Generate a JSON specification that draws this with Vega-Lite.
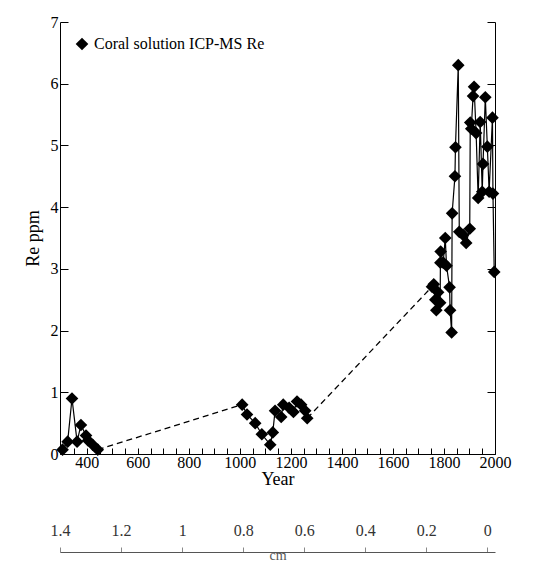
{
  "$schema": "https://vega.github.io/schema/vega-lite/v6.json",
  "width": 435,
  "height": 432,
  "autosize": "none",
  "padding": {"left": 60, "top": 22, "right": 46, "bottom": 117},
  "config": {
    "font": "Liberation Serif",
    "view": {"stroke": null},
    "axis": {"labelFont": "Liberation Serif", "titleFont": "Liberation Serif", "labelFontSize": 16, "titleFontSize": 18, "titleFontWeight": "normal", "labelColor": "#000", "titleColor": "#000", "domainColor": "#000", "tickColor": "#000", "grid": false}
  },
  "datasets": {
    "re": [
      {"year": 305, "re": 0.07, "seg": "A"},
      {"year": 325, "re": 0.2, "seg": "A"},
      {"year": 342, "re": 0.9, "seg": "A"},
      {"year": 362, "re": 0.2, "seg": "A"},
      {"year": 377, "re": 0.47, "seg": "A"},
      {"year": 397, "re": 0.3, "seg": "A"},
      {"year": 405, "re": 0.22, "seg": "A"},
      {"year": 423, "re": 0.15, "seg": "A"},
      {"year": 443, "re": 0.07, "seg": "A", "gap": "g1"},
      {"year": 1009, "re": 0.8, "seg": "B", "gap": "g1"},
      {"year": 1028, "re": 0.64, "seg": "B"},
      {"year": 1060, "re": 0.5, "seg": "B"},
      {"year": 1086, "re": 0.32, "seg": "B"},
      {"year": 1119, "re": 0.15, "seg": "B"},
      {"year": 1129, "re": 0.35, "seg": "B"},
      {"year": 1138, "re": 0.7, "seg": "B"},
      {"year": 1162, "re": 0.6, "seg": "B"},
      {"year": 1170, "re": 0.8, "seg": "B"},
      {"year": 1193, "re": 0.75, "seg": "B"},
      {"year": 1210, "re": 0.68, "seg": "B"},
      {"year": 1224, "re": 0.85, "seg": "B"},
      {"year": 1240, "re": 0.8, "seg": "B"},
      {"year": 1256, "re": 0.7, "seg": "B"},
      {"year": 1264, "re": 0.58, "seg": "B", "gap": "g2"},
      {"year": 1753, "re": 2.71, "seg": "C", "gap": "g2"},
      {"year": 1760, "re": 2.75, "seg": "C"},
      {"year": 1766, "re": 2.5, "seg": "C"},
      {"year": 1770, "re": 2.33, "seg": "C"},
      {"year": 1777, "re": 2.62, "seg": "C"},
      {"year": 1785, "re": 2.45, "seg": "C"},
      {"year": 1786, "re": 3.1, "seg": "C"},
      {"year": 1787, "re": 3.28, "seg": "C"},
      {"year": 1797, "re": 3.1, "seg": "C"},
      {"year": 1805, "re": 3.5, "seg": "C"},
      {"year": 1810, "re": 3.05, "seg": "C"},
      {"year": 1822, "re": 2.7, "seg": "C"},
      {"year": 1824, "re": 2.33, "seg": "C"},
      {"year": 1830, "re": 1.97, "seg": "C"},
      {"year": 1832, "re": 3.9, "seg": "C"},
      {"year": 1843, "re": 4.5, "seg": "C"},
      {"year": 1845, "re": 4.97, "seg": "C"},
      {"year": 1856, "re": 6.3, "seg": "C"},
      {"year": 1860, "re": 3.6, "seg": "C"},
      {"year": 1875, "re": 3.55, "seg": "C"},
      {"year": 1887, "re": 3.42, "seg": "C"},
      {"year": 1901, "re": 3.65, "seg": "C"},
      {"year": 1903, "re": 5.37, "seg": "C"},
      {"year": 1907, "re": 5.27, "seg": "C"},
      {"year": 1914, "re": 5.8, "seg": "C"},
      {"year": 1918, "re": 5.95, "seg": "C"},
      {"year": 1926, "re": 5.2, "seg": "C"},
      {"year": 1934, "re": 4.15, "seg": "C"},
      {"year": 1942, "re": 5.38, "seg": "C"},
      {"year": 1950, "re": 4.25, "seg": "C"},
      {"year": 1953, "re": 4.7, "seg": "C"},
      {"year": 1962, "re": 5.78, "seg": "C"},
      {"year": 1970, "re": 4.98, "seg": "C"},
      {"year": 1977, "re": 4.25, "seg": "C"},
      {"year": 1990, "re": 5.45, "seg": "C"},
      {"year": 1992, "re": 4.22, "seg": "C"},
      {"year": 1997, "re": 2.95, "seg": "C"}
    ]
  },
  "layer": [
    {
      "data": {"name": "re"},
      "transform": [{"filter": "datum.gap == 'g1' || datum.gap == 'g2'"}],
      "mark": {"type": "line", "color": "#000", "strokeDash": [6, 4], "strokeWidth": 1.3},
      "encoding": {
        "x": {"field": "year", "type": "quantitative", "scale": {"domain": [295, 2000], "nice": false},
          "axis": {"orient": "bottom", "values": [300, 350, 400, 450, 500, 550, 600, 650, 700, 750, 800, 850, 900, 950, 1000, 1050, 1100, 1150, 1200, 1250, 1300, 1350, 1400, 1450, 1500, 1550, 1600, 1650, 1700, 1750, 1800, 1850, 1900, 1950, 2000],
            "labelExpr": "datum.value % 200 == 0 ? datum.value : ''", "tickSize": -6, "labelPadding": 6, "labelFontSize": 16, "title": "Year", "titleFontSize": 18, "titlePadding": 0, "labelFlush": false, "labelOverlap": false}},
        "y": {"field": "re", "type": "quantitative", "scale": {"domain": [0, 7], "nice": false},
          "axis": {"orient": "left", "values": [0, 1, 2, 3, 4, 5, 6, 7], "tickSize": -8, "labelPadding": 10, "labelFontSize": 16, "title": "Re ppm", "titlePadding": 8}},
        "detail": {"field": "gap"}
      }
    },
    {
      "data": {"name": "re"},
      "mark": {"type": "line", "color": "#000", "strokeWidth": 1.2},
      "encoding": {
        "x": {"field": "year", "type": "quantitative", "scale": {"domain": [295, 2000], "nice": false},
          "axis": {"orient": "bottom", "offset": 98, "values": [295, 534, 774, 1013, 1252, 1491, 1731, 1970],
            "labelExpr": "{'295': '1.4', '534': '1.2', '774': '1', '1013': '0.8', '1252': '0.6', '1491': '0.4', '1731': '0.2', '1970': '0'}[datum.value + '']",
            "tickSize": -5, "labelPadding": -25, "labelFontSize": 16, "domainColor": "#555", "tickColor": "#888", "labelColor": "#333", "title": "cm", "titleFontSize": 14, "titleColor": "#555", "titlePadding": -4, "labelFlush": false, "labelOverlap": false}},
        "y": {"field": "re", "type": "quantitative", "axis": {"orient": "right", "values": [0, 1, 2, 3, 4, 5, 6, 7], "labels": false, "tickSize": -8, "title": null}},
        "detail": {"field": "seg"}
      }
    },
    {
      "data": {"name": "re"},
      "mark": {"type": "point", "shape": "diamond", "filled": true, "size": 160, "opacity": 1},
      "encoding": {
        "x": {"field": "year", "type": "quantitative", "scale": {"domain": [295, 2000], "nice": false}, "axis": null},
        "y": {"field": "re", "type": "quantitative", "axis": null},
        "color": {"datum": "Coral solution ICP-MS Re", "scale": {"range": ["#000"]},
          "legend": {"orient": "top-left", "title": null, "symbolType": "diamond", "symbolSize": 160, "labelFontSize": 16, "labelFont": "Liberation Serif", "labelColor": "#000", "labelLimit": 0, "offset": 14}}
      }
    }
  ],
  "resolve": {"scale": {"x": "independent", "y": "shared"}, "axis": {"x": "independent", "y": "independent"}}
}
